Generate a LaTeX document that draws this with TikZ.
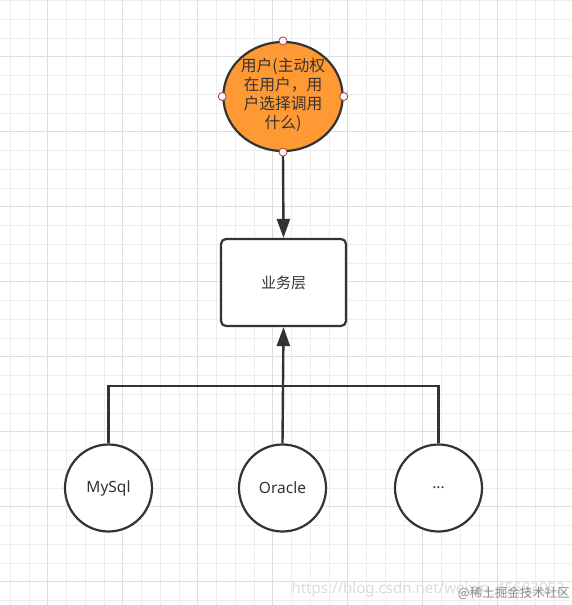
\documentclass[tikz,border=0pt]{standalone}
\usepackage{fontspec}
\setmainfont{Noto Sans}
\newfontfamily\cjk{Noto Sans CJK SC}
\usetikzlibrary{shapes.geometric,arrows.meta}
\definecolor{ink}{HTML}{333333}
\definecolor{userfill}{HTML}{FF9933}
\definecolor{gridlight}{HTML}{EDEDED}
\definecolor{gridheavy}{HTML}{DEDEDE}
\definecolor{dotline}{HTML}{A04040}
\tikzset{
  conn/.style={draw=ink, line width=2.4pt},
  tip/.style={-{Triangle[length=19pt,width=13pt]}},
  dbnode/.style={circle, draw=ink, line width=2.2pt, fill=white, minimum size=87pt, inner sep=0pt, text=ink, font=\fontsize{15.5}{18}\selectfont},
  portdot/.style={circle, draw=dotline, fill=white, line width=0.8pt, minimum size=8pt, inner sep=0pt},
}
\begin{document}
\begin{tikzpicture}[x=1pt,y=-1pt]
\useasboundingbox (0,0) rectangle (572,605);
\fill[white] (0,0) rectangle (572,605);
% grid
\foreach \k in {-2,...,27} {
  \pgfmathsetmacro{\gx}{47.7+18.75*\k}
  \draw[gridlight, line width=0.8pt] (\gx,0) -- (\gx,605);
}
\foreach \k in {-3,...,29} {
  \pgfmathsetmacro{\gy}{56.7+18.75*\k}
  \draw[gridlight, line width=0.8pt] (0,\gy) -- (572,\gy);
}
\foreach \k in {0,...,6} {
  \pgfmathsetmacro{\gx}{47.7+75*\k}
  \draw[gridheavy, line width=0.8pt] (\gx,0) -- (\gx,605);
}
\foreach \k in {-1,...,7} {
  \pgfmathsetmacro{\gy}{56.7+75*\k}
  \draw[gridheavy, line width=0.8pt] (0,\gy) -- (572,\gy);
}
% nodes
\node[ellipse, draw=ink, line width=2.2pt, fill=userfill, minimum width=116pt, minimum height=109pt, inner sep=0pt, text=ink, align=center, font=\cjk\fontsize{15.8}{19}\selectfont] (user) at (283,96.5) {\raisebox{-3pt}{\begin{tabular}{@{}c@{}}用户(主动权\\在用户，用\\户选择调用\\什么)\end{tabular}}};
\node[draw=ink, line width=2.2pt, fill=white, rounded corners=5pt, minimum width=125pt, minimum height=87pt, inner sep=0pt, text=ink, font=\cjk\fontsize{15}{18}\selectfont] (biz) at (283.5,282.5) {业务层};
\node[dbnode] (mysql) at (108.5,488) {MySql};
\node[dbnode] (oracle) at (282.5,488) {Oracle};
\node[dbnode] (more) at (438.5,488) {...};
\coordinate (bus) at (282.5,386);
% connectors
\draw[conn, tip] (user.south) -- (biz.north);
\draw[conn, tip] (oracle.north) -- (biz.south);
\draw[conn] (mysql.north) |- (bus) -| (more.north);
% port dots
\foreach \a in {north,south,east,west} {
  \node[portdot] at (user.\a) {};
}
% watermarks
\node[text=black!14, font=\fontsize{15}{18}\selectfont, anchor=west] (wm1) at (288,590) {https://blog.csdn.net/weixin\_45683052};
\node[text=black!45, font=\cjk\fontsize{12.5}{15}\selectfont, anchor=east, inner sep=1pt] (wm2) at (571,593) {@稀土掘金技术社区};
\end{tikzpicture}
\end{document}
